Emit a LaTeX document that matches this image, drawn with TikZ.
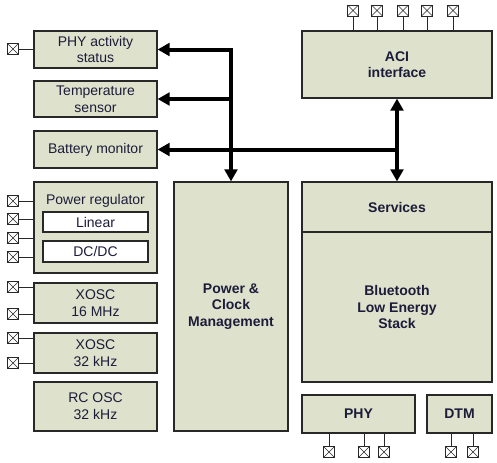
\documentclass[tikz,border=0pt]{standalone}
\usepackage{fontspec}
\setmainfont{Liberation Sans}
\usetikzlibrary{arrows.meta}
\definecolor{boxfill}{RGB}{222,225,203}
\definecolor{txt}{RGB}{28,28,58}
\definecolor{edge}{RGB}{40,40,40}
\newcommand\blk[7][]{\node[blk,#1,minimum width={(#5-#3)*0.75pt},minimum height={(#6-#4)*0.75pt}] (#2) at ({(#3+#5)/2},{(#4+#6)/2}) {#7};}
\begin{document}
\begin{tikzpicture}[x=0.75pt,y=-0.75pt,
  blk/.style={draw=edge,fill=boxfill,line width=0.9pt,inner sep=0pt,align=center,text=txt,
    font=\fontsize{10.5}{12.6}\selectfont},
  bblk/.style={blk,font=\fontsize{10.5}{12.4}\selectfont\bfseries},
  wblk/.style={blk,fill=white},
  padbox/.style={draw=edge,fill=white,line width=0.7pt,minimum size=8.2pt,inner sep=0pt,
    path picture={\draw[edge,line width=0.5pt] (path picture bounding box.north west) -- (path picture bounding box.south east)
      (path picture bounding box.north east) -- (path picture bounding box.south west);}},
  wire/.style={draw=edge,line width=0.7pt},
  bus/.style={draw=black,line width=3pt,{Triangle[length=9pt,width=9.5pt]}-{Triangle[length=9pt,width=9.5pt]}},
  busl/.style={draw=black,line width=3pt,{Triangle[length=9pt,width=9.5pt]}-}
]
\useasboundingbox (0,0) rectangle (497,462);
% left column
\blk{phyact}{34}{31}{157}{68}{PHY activity\\status}
\blk{temp}{34}{81}{157}{117}{Temperature\\sensor}
\blk{batt}{34}{131}{157}{168}{Battery monitor}
\blk{preg}{34}{182}{157}{273}{}
\node[text=txt,font=\fontsize{10.5}{12.6}\selectfont,inner sep=0pt] (pregt) at (95.5,201) {Power regulator};
\blk[wblk]{lin}{43}{212}{148}{232}{Linear}
\blk[wblk]{dcdc}{43}{241}{148}{262}{DC/DC}
\blk{x16}{34}{283}{157}{323}{XOSC\\16 MHz}
\blk{x32}{34}{333}{157}{373}{XOSC\\32 kHz}
\blk{rc}{34}{382}{157}{431}{RC OSC\\32 kHz}
% centre and right
\blk[bblk]{pcm}{174}{182}{288}{431}{Power \&\\Clock\\Management}
\blk[bblk]{aci}{302}{31}{492}{98}{ACI\\interface}
\blk[bblk]{serv}{302}{182}{492}{232}{Services}
\blk[bblk]{ble}{302}{232}{492}{382}{Bluetooth\\Low Energy\\Stack}
\blk[bblk]{phy}{302}{395}{415}{433}{PHY}
\blk[bblk]{dtm}{427}{395}{492}{433}{DTM}
% left pads
\foreach \n/\y/\b in {p1/49/phyact,p2/201/preg,p3/219/preg,p4/238/preg,p5/257/preg,p6/287/x16,p7/314/x16,p8/338/x32,p9/363/x32}{
  \node[padbox] (\n) at (13,\y) {};
  \draw[wire] (\n.east) -- (\n.east -| \b.west);
}
% top pads
\foreach \n/\x in {a1/353,a2/377,a3/403,a4/427,a5/453}{
  \node[padbox] (\n) at (\x,10.5) {};
  \draw[wire] (\n.south) -- (\n.south |- aci.north);
}
% bottom pads
\foreach \n/\x/\b in {b1/329/phy,b2/364/phy,b3/384/phy,b4/451/dtm,b5/473/dtm}{
  \node[padbox] (\n) at (\x,452) {};
  \draw[wire] (\n.north) -- (\n.north |- \b.south);
}
% buses
\coordinate (jt) at (phyact.east -| pcm.north);
\draw[bus] (phyact.east) -- (jt) -- (pcm.north);
\draw[busl] (temp.east) -- (temp.east -| pcm.north);
\draw[busl] (batt.east) -- (batt.east -| aci.south);
\draw[bus] (aci.south) -- (serv.north);
\end{tikzpicture}
\end{document}
